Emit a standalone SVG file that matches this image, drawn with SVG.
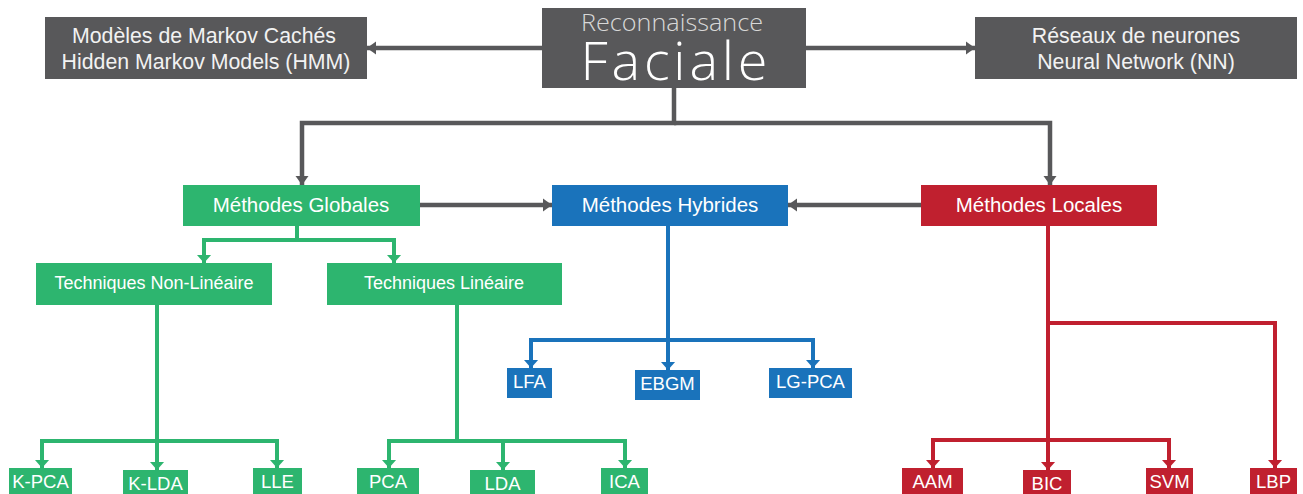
<svg xmlns="http://www.w3.org/2000/svg" width="1303" height="494" viewBox="0 0 1303 494">
<style>
.dark{fill:#58585a}
.g{fill:#2db56f}
.b{fill:#1a73bb}
.r{fill:#c0202f}
.t{font-family:"Liberation Sans",Arial,sans-serif;fill:#ffffff;text-anchor:middle}
.top{font-size:21.3px;fill:#f2f2f2}
.mid{font-size:20.5px}
.tech{font-size:18px}
.leaf{font-size:18.5px}
.cg{fill:none;stroke:#58585a;stroke-width:4.5}
.cgr{fill:none;stroke:#2db56f;stroke-width:4}
.cb{fill:none;stroke:#1a73bb;stroke-width:4}
.cr{fill:none;stroke:#c0202f;stroke-width:4}
</style>
<defs>
<marker id="ag" markerUnits="userSpaceOnUse" markerWidth="10" markerHeight="14" refX="9" refY="7" orient="auto"><path d="M0,0.5 L9,7 L0,13.5 z" fill="#58585a"/></marker>
<marker id="agr" markerUnits="userSpaceOnUse" markerWidth="9" markerHeight="15" refX="8.5" refY="7.5" orient="auto"><path d="M0,0 L8.5,7.5 L0,15 z" fill="#2db56f"/></marker>
<marker id="ab" markerUnits="userSpaceOnUse" markerWidth="9" markerHeight="15" refX="8.5" refY="7.5" orient="auto"><path d="M0,0 L8.5,7.5 L0,15 z" fill="#1a73bb"/></marker>
<marker id="ar" markerUnits="userSpaceOnUse" markerWidth="9" markerHeight="15" refX="8.5" refY="7.5" orient="auto"><path d="M0,0 L8.5,7.5 L0,15 z" fill="#c0202f"/></marker>
</defs>

<g id="connectors">
<path class="cg" d="M542,48 H367" marker-end="url(#ag)"/>
<path class="cg" d="M806,48 H975" marker-end="url(#ag)"/>
<path class="cg" d="M674,88 V123 H302 V185" marker-end="url(#ag)"/>
<path class="cg" d="M674,123 H1050 V185" marker-end="url(#ag)"/>
<path class="cg" d="M420,205 H552" marker-end="url(#ag)"/>
<path class="cg" d="M921,205 H788" marker-end="url(#ag)"/>

<path class="cgr" d="M297,226 V240 H204 V263" marker-end="url(#agr)"/>
<path class="cgr" d="M297,240 H394 V263" marker-end="url(#agr)"/>
<path class="cgr" d="M157,305 V441 H42 V468" marker-end="url(#agr)"/>
<path class="cgr" d="M157,441 V470" marker-end="url(#agr)"/>
<path class="cgr" d="M157,441 H277 V468" marker-end="url(#agr)"/>
<path class="cgr" d="M457,305 V441 H389 V468" marker-end="url(#agr)"/>
<path class="cgr" d="M457,441 H625 V468" marker-end="url(#agr)"/>
<path class="cgr" d="M503,441 V470" marker-end="url(#agr)"/>

<path class="cb" d="M668,226 V340 H531 V368" marker-end="url(#ab)"/>
<path class="cb" d="M668,340 H813 V368" marker-end="url(#ab)"/>
<path class="cb" d="M668,340 V370" marker-end="url(#ab)"/>

<path class="cr" d="M1048,226 V440 H933 V468" marker-end="url(#ar)"/>
<path class="cr" d="M1048,323 H1275 V468" marker-end="url(#ar)"/>
<path class="cr" d="M1048,440 H1169 V468" marker-end="url(#ar)"/>
<path class="cr" d="M1048,440 V470" marker-end="url(#ar)"/>
</g>

<g id="center">
<rect class="dark" x="542" y="8" width="264" height="80"/>
<text x="672" y="31" text-anchor="middle" font-family="'Open Sans','Noto Sans',sans-serif" font-weight="300" font-size="23" fill="#d8d8d8" textLength="182" lengthAdjust="spacingAndGlyphs">Reconnaissance</text>
<text x="674" y="80" text-anchor="middle" font-family="'Open Sans','Noto Sans',sans-serif" font-weight="300" font-size="54" fill="#ffffff" textLength="187" lengthAdjust="spacing">Faciale</text>
</g>

<g id="hmm">
<rect class="dark" x="45" y="17" width="322" height="62"/>
<text class="t top" x="204" y="43">Modèles de Markov Cachés</text>
<text class="t top" x="206" y="69">Hidden Markov Models (HMM)</text>
</g>

<g id="nn">
<rect class="dark" x="975" y="17" width="322" height="62"/>
<text class="t top" x="1136" y="43">Réseaux de neurones</text>
<text class="t top" x="1136" y="69">Neural Network (NN)</text>
</g>

<g id="globales">
<rect class="g" x="183" y="185" width="237" height="41"/>
<text class="t mid" x="301" y="212">Méthodes Globales</text>
</g>
<g id="hybrides">
<rect class="b" x="552" y="185" width="236" height="41"/>
<text class="t mid" x="670" y="212">Méthodes Hybrides</text>
</g>
<g id="locales">
<rect class="r" x="921" y="185" width="236" height="41"/>
<text class="t mid" x="1039" y="212">Méthodes Locales</text>
</g>

<g id="nonlineaire">
<rect class="g" x="36" y="263" width="236" height="42"/>
<text class="t tech" x="154" y="289">Techniques Non-Linéaire</text>
</g>
<g id="lineaire">
<rect class="g" x="327" y="263" width="235" height="42"/>
<text class="t tech" x="444" y="289">Techniques Linéaire</text>
</g>

<g id="kpca"><rect class="g" x="9" y="468" width="63" height="30"/><text class="t leaf" x="40.5" y="488">K-PCA</text></g>
<g id="klda"><rect class="g" x="123" y="470" width="65" height="30"/><text class="t leaf" x="155.5" y="490">K-LDA</text></g>
<g id="lle"><rect class="g" x="253" y="468" width="49" height="30"/><text class="t leaf" x="277.5" y="488">LLE</text></g>
<g id="pca"><rect class="g" x="357" y="468" width="62" height="30"/><text class="t leaf" x="388" y="488">PCA</text></g>
<g id="lda"><rect class="g" x="470" y="470" width="65" height="30"/><text class="t leaf" x="502.5" y="490">LDA</text></g>
<g id="ica"><rect class="g" x="601" y="468" width="47" height="30"/><text class="t leaf" x="624.5" y="488">ICA</text></g>

<g id="lfa"><rect class="b" x="507" y="368" width="45" height="30"/><text class="t leaf" x="529.5" y="388">LFA</text></g>
<g id="ebgm"><rect class="b" x="635" y="370" width="65" height="30"/><text class="t leaf" x="667.5" y="390">EBGM</text></g>
<g id="lgpca"><rect class="b" x="769" y="368" width="83" height="30"/><text class="t leaf" x="810.5" y="388">LG-PCA</text></g>

<g id="aam"><rect class="r" x="902" y="468" width="61" height="30"/><text class="t leaf" x="932.5" y="488">AAM</text></g>
<g id="bic"><rect class="r" x="1023" y="470" width="48" height="30"/><text class="t leaf" x="1047" y="490">BIC</text></g>
<g id="svm"><rect class="r" x="1146" y="468" width="47" height="30"/><text class="t leaf" x="1169.5" y="488">SVM</text></g>
<g id="lbp"><rect class="r" x="1250" y="468" width="47" height="30"/><text class="t leaf" x="1273.5" y="488">LBP</text></g>
</svg>
